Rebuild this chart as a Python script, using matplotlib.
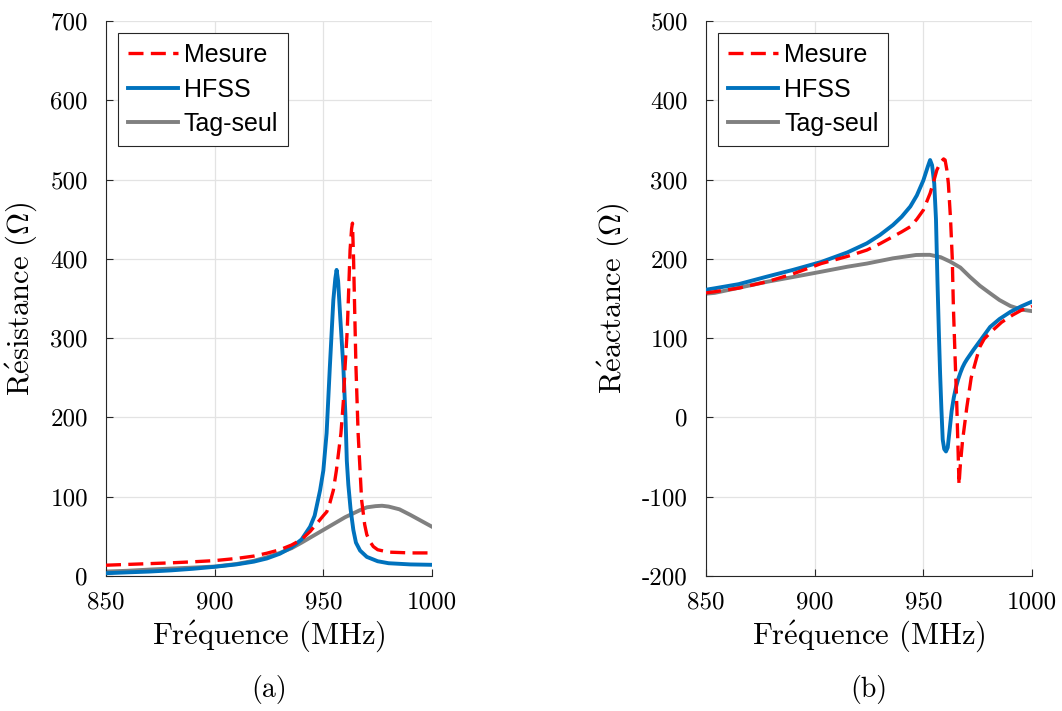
import numpy as np
import matplotlib
matplotlib.use('Agg')
import matplotlib.pyplot as plt
from matplotlib.ticker import FixedLocator

plt.rcParams['font.family'] = 'cmr10'
plt.rcParams['mathtext.fontset'] = 'cm'
plt.rcParams['axes.unicode_minus'] = False

# ---- Resistance (a) ----
f_res_mes = [850, 860, 870, 880, 890, 900, 910, 918, 924, 930, 935.4, 940, 943.9, 947, 950,
             951.6, 953, 954.6, 956, 957.2, 958.1, 959.2, 960, 961, 961.5, 962.3, 963,
             963.4, 963.9, 964.3, 965, 966, 967.6, 969, 970, 971.5, 973, 975, 980, 990, 1000]
r_mes = [13.5, 14.5, 15.5, 16.5, 17.8, 19.3, 22, 25, 28.6, 33, 39, 46, 56, 66, 76,
         81, 92, 108, 133, 160, 180, 220, 264, 310, 348, 411, 438,
         445, 400, 350, 264, 180, 96, 65, 52, 43, 37, 33, 30, 29, 29]

f_res_hfss = [850, 860, 870, 880, 890, 900, 910, 918, 924, 930, 935.4, 940, 943.9, 946,
              948.5, 950, 951.5, 953, 954.6, 955.5, 956.1, 956.8, 957.8, 959.2, 960.2,
              960.8, 961.5, 962.5, 963.8, 965, 966.9, 970, 975, 980, 990, 1000]
r_hfss = [3.4, 4.5, 5.5, 7, 9, 11.5, 14.5, 18, 22, 28, 36, 46, 62, 76,
          108, 133, 180, 264, 348, 375, 386, 372, 325, 264, 200,
          145, 115, 85, 58, 42, 32, 24, 18.5, 16, 14.5, 14]

f_res_tag = [850, 860, 870, 880, 890, 900, 910, 918, 924, 930, 935.4, 940, 945, 950, 955,
             960, 966.9, 970, 974, 977, 980, 985, 990, 995, 1000]
r_tag = [5.5, 6.5, 8, 9.3, 10.5, 11.8, 15, 19, 23.5, 29, 35, 42, 50, 58, 66,
         74, 83, 86.5, 88, 88.5, 87.5, 84, 77, 69.5, 62]

# ---- Reactance (b) ----
f_x_mes = [850, 854, 865, 878, 890, 903, 915, 924, 930, 936, 940, 944, 947, 950, 953.1,
           955, 956.2, 958, 959.3, 960, 960.8, 961.5, 962.5, 963.3, 963.8, 964.6, 965.4,
           966, 966.4, 967, 968, 970, 972, 974.6, 976, 978, 982, 986, 991, 995, 1000]
x_mes = [157, 158.5, 163, 171, 181, 194, 203, 211, 219, 228, 234, 240.5, 250, 261.5, 282.6,
         300, 312, 322, 326, 324.6, 312, 295, 250, 200, 140, 75, 13,
         -45, -85, -60, -30, 13, 50, 76, 89, 99, 110, 120, 129, 135, 140]

f_x_hfss = [850, 854, 865, 878, 890, 903, 915, 924, 930, 936, 940, 944, 947, 950, 952,
            953.1, 954, 955, 955.8, 956.5, 957.2, 957.7, 958.3, 958.9, 959.6, 960.4,
            961.2, 962, 963, 964, 965, 966, 967, 968, 969, 970, 973, 977, 980.7, 985,
            990, 995, 1000]
x_hfss = [161, 162.8, 168, 177.5, 186, 196, 208, 219.5, 230, 242.6, 253, 266, 280, 299, 316,
          324.6, 318, 295, 250, 170, 100, 55, 10, -28, -40, -43,
          -38, -18, 8, 25, 38, 48, 56, 63, 68.5, 73, 85, 100, 114, 124,
          133, 140, 146]

f_x_tag = [850, 854, 866, 878, 890, 903, 915, 924, 936, 946.6, 950, 953, 958, 962.3,
           967, 971.5, 976, 980.7, 985, 990, 995, 1000]
x_tag = [156, 157, 164, 171, 177, 183.7, 190, 194, 200.6, 204.8, 205, 205, 202, 196.5,
         189, 177, 166, 156.5, 148, 140.5, 136, 134]

red = '#FF0000'
blue = '#0072BD'
gray = '#808080'

fig = plt.figure(figsize=(10.62, 7.11), dpi=100)
ax1 = fig.add_axes([0.0998, 0.190, 0.307, 0.7805])
ax2 = fig.add_axes([0.6648, 0.190, 0.307, 0.7805])


def style(ax, yticks):
    ax.set_xlim(850, 1000)
    ax.set_ylim(yticks[0], yticks[-1])
    ax.xaxis.set_major_locator(FixedLocator([850, 900, 950, 1000]))
    ax.yaxis.set_major_locator(FixedLocator(yticks))
    ax.grid(True, color='#e3e3e3', lw=0.9)
    ax.set_axisbelow(True)
    for s in ['top', 'right']:
        ax.spines[s].set_visible(False)
    for s in ['left', 'bottom']:
        ax.spines[s].set_color('#262626')
        ax.spines[s].set_linewidth(0.8)
    ax.tick_params(direction='in', length=5, width=0.8, labelsize=18,
                   colors='#262626', labelcolor='black')
    ax.tick_params(axis='x', pad=11)
    ax.tick_params(axis='y', pad=13)
    ax.set_xlabel(r'Fr$\mathrm{\acute{e}}$quence (MHz)', fontsize=22, labelpad=4)


style(ax1, list(range(0, 701, 100)))
style(ax2, list(range(-200, 501, 100)))

ax1.plot(f_res_mes, r_mes, color=red, lw=2.4, dashes=(4.5, 2.2), label='Mesure', zorder=4)
ax1.plot(f_res_hfss, r_hfss, color=blue, lw=2.8, label='HFSS', zorder=3)
ax1.plot(f_res_tag, r_tag, color=gray, lw=2.8, label='Tag-seul', zorder=2)
ax1.set_ylabel(r'R$\mathrm{\acute{e}}$sistance ($\Omega$)', fontsize=22, labelpad=8)

ax2.plot(f_x_mes, x_mes, color=red, lw=2.4, dashes=(4.5, 2.2), label='Mesure', zorder=4)
ax2.plot(f_x_hfss, x_hfss, color=blue, lw=2.8, label='HFSS', zorder=3)
ax2.plot(f_x_tag, x_tag, color=gray, lw=2.8, label='Tag-seul', zorder=2)
ax2.set_ylabel(r'R$\mathrm{\acute{e}}$actance ($\Omega$)', fontsize=22, labelpad=8)

for ax in (ax1, ax2):
    leg = ax.legend(loc='upper left', bbox_to_anchor=(0.036, 0.978),
                    prop={'family': 'Liberation Sans', 'size': 18},
                    fancybox=False, edgecolor='#262626', framealpha=1,
                    handlelength=2.0, handletextpad=0.25, borderpad=0.4,
                    labelspacing=0.42, borderaxespad=0.0)
    leg.get_frame().set_linewidth(0.8)

fig.text(0.2533, 0.019, '(a)', fontsize=20, ha='center')
fig.text(0.8183, 0.019, '(b)', fontsize=20, ha='center')

fig.savefig('out.png', dpi=100)
